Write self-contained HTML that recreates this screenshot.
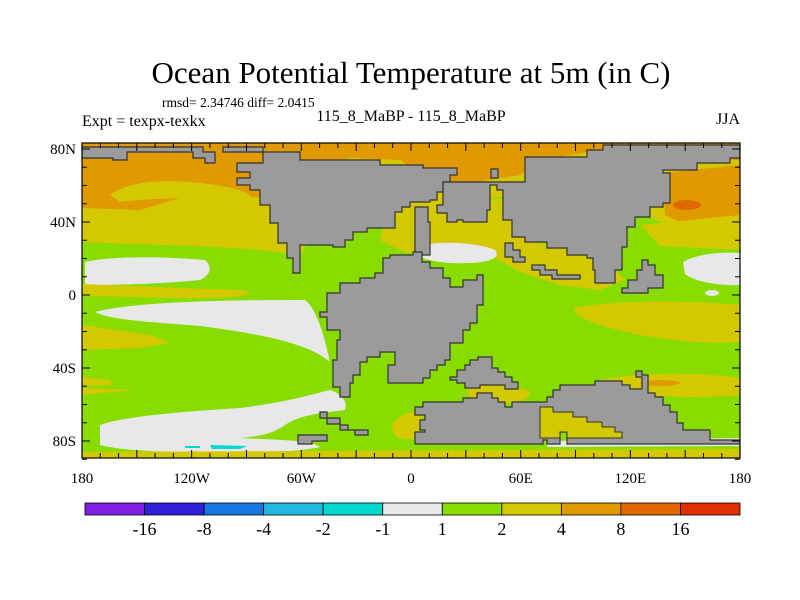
<!DOCTYPE html>
<html><head><meta charset="utf-8">
<style>
body{margin:0;background:#fff;}
svg{display:block;font-family:"Liberation Serif",serif;}
</style></head>
<body>
<svg id="fig" width="800" height="600" viewBox="0 0 800 600">
<rect width="800" height="600" fill="#fff"/>
<text x="411" y="83" font-size="31" text-anchor="middle">Ocean Potential Temperature at 5m (in C)</text>
<text x="162" y="107" font-size="13.5">rmsd= 2.34746 diff= 2.0415</text>
<text x="82" y="126" font-size="16">Expt = texpx-texkx</text>
<text x="411" y="121" font-size="16" text-anchor="middle">115_8_MaBP - 115_8_MaBP</text>
<text x="740" y="124" font-size="16" text-anchor="end">JJA</text>
<defs><clipPath id="mapclip"><rect x="82" y="143" width="658" height="315"/></clipPath></defs>
<g clip-path="url(#mapclip)">
<rect x="82" y="143" width="658" height="315" fill="#88dc00"/>
<path d="M82,143H740V215L700,222L660,222L640,212L600,205L560,200L520,195L470,200L420,200L380,190L330,200L290,205L250,212L200,205L150,218L82,222Z" fill="#d4c800"/>
<path d="M82,143H740V160L700,160L650,152L600,150L540,160L520,175L470,183L430,180L400,160L350,158L300,168L290,180L260,198L220,192L180,198L140,210L82,208Z" fill="#e09a00"/>
<path d="M663,173L740,165V225L700,228L680,222L665,215Z" fill="#e09a00"/>
<ellipse cx="687" cy="205" rx="14" ry="5" fill="#e06800"/>
<path d="M110,195C130,180 170,178 215,185C240,188 255,195 250,200C210,198 170,196 120,202Z" fill="#d4c800"/>
<path d="M82,215L200,205L290,205L310,240L300,255L260,250L200,246L130,244L82,242Z" fill="#d4c800"/>
<path d="M390,200L470,198L520,200L525,240L600,255L625,280L600,290L560,285L520,272L490,255L440,262L400,250L380,240Z" fill="#d4c800"/>
<path d="M640,225L740,215V250L700,248L660,246Z" fill="#d4c800"/>
<path d="M85,262C110,256 160,256 205,260C212,266 212,274 200,280C160,284 120,285 85,285Z" fill="#e8e8e8"/>
<path d="M420,246C440,240 480,243 495,250C500,256 495,262 470,263C450,264 430,262 418,256Z" fill="#e8e8e8"/>
<path d="M683,262C700,252 730,252 740,253V285C720,286 695,282 685,274Z" fill="#e8e8e8"/>
<ellipse cx="712" cy="293" rx="7" ry="3" fill="#e8e8e8"/>
<path d="M82,284C120,286 180,288 240,290C260,292 250,298 200,298C150,298 110,296 82,296Z" fill="#d4c800"/>
<path d="M95,312C130,303 200,300 305,300C318,310 325,340 330,362C310,345 270,335 200,326C150,322 110,320 95,312Z" fill="#e8e8e8"/>
<path d="M82,325L150,335L170,343L140,348L82,350Z" fill="#d4c800"/>
<path d="M82,377L110,380L112,385L82,386Z M82,388L135,390L82,395Z" fill="#d4c800"/>
<path d="M575,308C610,300 680,300 740,305V342C700,345 640,338 600,325C580,318 572,312 575,308Z" fill="#d4c800"/>
<path d="M100,425C120,418 160,413 240,408C290,402 320,392 330,390C342,394 348,402 345,410C320,413 300,415 285,425C275,432 265,436 240,438C280,440 310,440 320,447C300,452 260,453 200,452C150,452 120,450 100,445Z" fill="#e8e8e8"/>
<path d="M185,446H200V448H185Z M210,445L247,446L240,449L212,449Z" fill="#00d8d0"/>
<path d="M82,452L740,449V458H82Z" fill="#d4c800"/>
<path d="M395,420C405,412 418,410 422,414L418,440L398,438C392,432 390,425 395,420Z" fill="#d4c800"/>
<path d="M465,385C490,382 520,385 530,392C530,400 515,404 500,402L470,398Z" fill="#d4c800"/>
<path d="M600,380C640,372 700,372 740,378V395C700,398 660,398 630,392Z" fill="#d4c800"/>
<ellipse cx="660" cy="383" rx="20" ry="3" fill="#e09a00"/>
<path d="M547,441L740,438V446L547,447Z" fill="#e8e8e8"/>
<g fill="#9b9b9b" stroke="#333" stroke-width="1.2">
<path d="M82,147H203V152H215V163H205V158H193V152H127V160H113V158H82Z"/>
<path d="M223,147H263V152H300V160H380V165H423V168H457V175H450V182H443V192H437V200H430V202H410V207H402V212H395V228H367V232H353V240H345V247H333V245H300V273H293V258H287V243H278V223H270V205H260V190H250V185H237V178H250V172H237V163H263V152H223Z"/>
<path d="M443,182H525V157H587V150H603V145H740V158H730V163H697V170H663V173H670V195H670V203H663V207H650V217H635V227H627V247H622V270H615V283H595V270H593V258H587V255H567V248H547V242H525V237H512V232H512V220H503V210H503V190H497V185H490V210H487V222H477V222H463V220H457V222H447V213H437V205H443Z"/>
<path d="M491,169H498V178H491Z"/>
<path d="M415,207H428V222H430V255H415Z"/>
<path d="M505,243H513V250H520V257H525V262H513V257H505Z"/>
<path d="M532,265H545V270H557V275H580V279H552V275H540V270H532Z"/>
<path d="M642,260H648V265H655V275H663V288H648V293H622V288H628V280H637V270H642Z"/>
<path d="M413,252H422V262H430V268H443V278H450V287H463V280H477V275H483V305H477V323H470V330H463V343H450V360H445V365H437V370H430V378H423V383H388V365H395V352H380V357H367V362H360V375H353V383H350V397H340V387H333V360H337V340H340V330H327V317H320V312H327V293H340V283H360V278H375V273H383V258H390V255H413Z"/>
<path d="M490,357H492V368H498V372H505V377H512V382H518V389H505V385H480V388H465V383H457V380H450V377H457V370H465V365H470V360H478V357Z"/>
<path d="M415,407H423V402H463V398H477V393H492V398H498V402H505V407H512V402H547V397H553V390H560V385H595V381H622V385H630V389H642V377H636V371H642V375H648V393H655V397H663V405H670V412H677V423H683V430H697V430H710V435H710V440H742V444H567V432H560V444H547V440H543V444H415V432H425V430H420V420H425V415H415Z"/>
<path d="M320,412H327V418H340V425H348V430H368V435H355V430H340V424H327V418H320Z"/>
<path d="M298,435H327V441H312V444H298Z"/>
</g>
<path d="M540,407H553V412H573V417H587V422H602V427H615V432H622V438H567V432H560V438H540Z" fill="#d4c800" stroke="#333" stroke-width="1"/>
</g>
<rect x="82" y="143" width="658" height="315" fill="none" stroke="#000" stroke-width="1.2"/>
<g id="axes"></g>
<g id="cbar"></g>
</svg>
<script>
const lonTicks=[-180,-120,-60,0,60,120,180];
const lonLabels=["180","120W","60W","0","60E","120E","180"];
const latTicks=[80,40,0,-40,-80];
const latLabels=["80N","40N","0","40S","80S"];
const cbColors=["#8020e0","#3020d8","#1878e0","#20b8e0","#00d8d0","#e8e8e8","#88dc00","#d4c800","#e09a00","#e06800","#e03000"];
const cbLabels=["-16","-8","-4","-2","-1","1","2","4","8","16"];
const NS="http://www.w3.org/2000/svg";
const xLon=l=>411+l*1.828;
const yLat=l=>295-l*1.825;
const ax=document.getElementById('axes');
function mk(t,a,p){const e=document.createElementNS(NS,t);for(const k in a)e.setAttribute(k,a[k]);p.appendChild(e);return e;}
for(let l=-180;l<=180;l+=10){
  const x=xLon(l),len=(l%30===0)?8:5;
  const t1=mk('line',{x1:x,x2:x,y1:143,y2:143+len,stroke:'#000','stroke-width':1},ax);
  
  
  const t2=mk('line',{x1:x,x2:x,y1:458,y2:458-len,stroke:'#000','stroke-width':1},ax);
  
  
}
for(let l=-90;l<=80;l+=10){
  const y=yLat(l);
  const len=(l%40===0)?8:5;
  const t1=mk('line',{x1:82,x2:82+len,y1:y,y2:y,stroke:'#000','stroke-width':1},ax);
  
  
  const t2=mk('line',{x1:740,x2:740-len,y1:y,y2:y,stroke:'#000','stroke-width':1},ax);
  
  
}
lonTicks.forEach((l,i)=>{
  const t=mk('text',{x:xLon(l),y:483,'font-size':15,'text-anchor':'middle'},ax);
  t.textContent=lonLabels[i];
  
  
});
latTicks.forEach((l,i)=>{
  const t=mk('text',{x:76,y:yLat(l)+5,'font-size':15,'text-anchor':'end'},ax);
  t.textContent=latLabels[i];
  
  
});
const cb=document.getElementById('cbar');
const cbX=i=>85+i*(655/cbColors.length);
cbColors.forEach((c,i)=>{
  const r=mk('rect',{x:cbX(i),y:503,width:cbX(i+1)-cbX(i),height:12,fill:c,stroke:'#000','stroke-width':0.8},cb);
  
  
});
cbLabels.forEach((s,i)=>{
  const t=mk('text',{x:cbX(i+1),y:535,'font-size':18,'text-anchor':'middle'},cb);
  t.textContent=s;
  
  
});
</script>
</body></html>
